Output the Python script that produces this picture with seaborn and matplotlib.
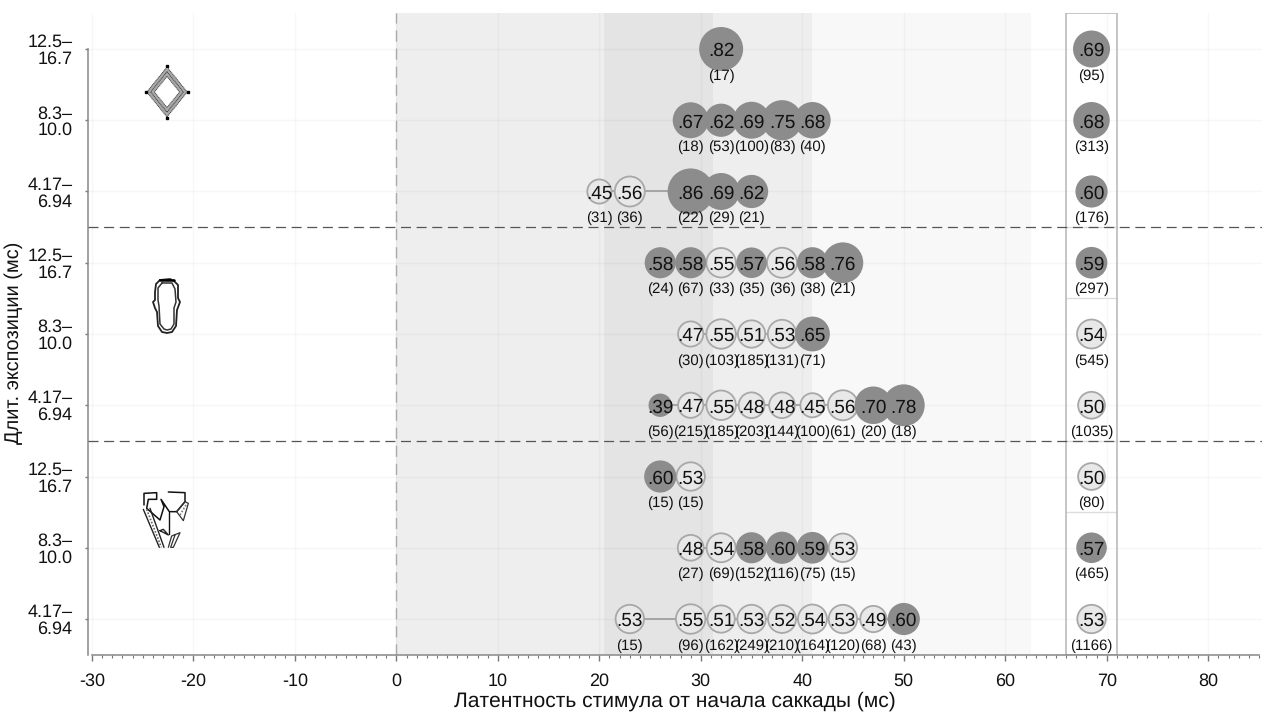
import numpy as np
import pandas as pd
import seaborn as sns
import matplotlib.pyplot as plt

# one set of lists per row, bottom row of the chart first
row_labels = ['4.17–\n6.94', '8.3–\n10.0', '12.5–\n16.7'] * 3
lat_0 = [23, 29, 32, 35, 38, 41, 44, 47, 50]
val_0 = [.53, .55, .51, .53, .52, .54, .53, .49, .60]
cnt_0 = [15, 96, 162, 249, 210, 164, 120, 68, 43]
lat_1 = [29, 32, 35, 38, 41, 44]
val_1 = [.48, .54, .58, .60, .59, .53]
cnt_1 = [27, 69, 152, 116, 75, 15]
lat_2 = [26, 29]
val_2 = [.60, .53]
cnt_2 = [15, 15]
lat_3 = [26, 29, 32, 35, 38, 41, 44, 47, 50]
val_3 = [.39, .47, .55, .48, .48, .45, .56, .70, .78]
cnt_3 = [56, 215, 185, 203, 144, 100, 61, 20, 18]
lat_4 = [29, 32, 35, 38, 41]
val_4 = [.47, .55, .51, .53, .65]
cnt_4 = [30, 103, 185, 131, 71]
lat_5 = [26, 29, 32, 35, 38, 41, 44]
val_5 = [.58, .58, .55, .57, .56, .58, .76]
cnt_5 = [24, 67, 33, 35, 36, 38, 21]
lat_6 = [20, 23, 29, 32, 35]
val_6 = [.45, .56, .86, .69, .62]
cnt_6 = [31, 36, 22, 29, 21]
lat_7 = [29, 32, 35, 38, 41]
val_7 = [.67, .62, .69, .75, .68]
cnt_7 = [18, 53, 100, 83, 40]
lat_8 = [32]
val_8 = [.82]
cnt_8 = [17]

# the pooled column inside the box on the right
total_lat = 68.5
total_val = [.53, .57, .50, .50, .54, .59, .60, .68, .69]
total_cnt = [1166, 465, 80, 1035, 545, 297, 176, 313, 95]

lats = [lat_0, lat_1, lat_2, lat_3, lat_4, lat_5, lat_6, lat_7, lat_8]
vals = [val_0, val_1, val_2, val_3, val_4, val_5, val_6, val_7, val_8]
cnts = [cnt_0, cnt_1, cnt_2, cnt_3, cnt_4, cnt_5, cnt_6, cnt_7, cnt_8]

frames = []
for i in range(9):
    frames.append(pd.DataFrame({'lat': lats[i], 'val': vals[i], 'cnt': cnts[i], 'row': i, 'total': False}))
    frames.append(pd.DataFrame({'lat': [total_lat], 'val': [total_val[i]], 'cnt': [total_cnt[i]], 'row': i, 'total': True}))
df = pd.concat(frames, ignore_index=True)
df['sig'] = (df['val'] >= .565) | (df['val'] <= .40)
df['s'] = (38.6 * df['val']) ** 2   # diameter goes with the value
df.loc[df['val'] <= .40, 's'] *= 1.25

sns.set_theme(style='white')
plt.rcParams['font.family'] = ['Liberation Sans', 'DejaVu Sans']
plt.rcParams['axes.unicode_minus'] = False
plt.rcParams['text.hinting'] = 'no_hinting'
plt.rcParams['text.hinting_factor'] = 1

fig = plt.figure(figsize=(12.8, 7.16), dpi=100)
ax = fig.add_axes([88 / 1280, 61 / 716, 1174 / 1280, 642 / 716])
ax.set_xlim(-30.39, 85.3)
ax.set_ylim(-0.505, 8.505)

# shaded latency bands
ax.axvspan(0, 20.5, color='#eeeeee', lw=0, zorder=0)
ax.axvspan(20.5, 31.2, color='#e4e4e4', lw=0, zorder=0)
ax.axvspan(31.2, 41, color='#eeeeee', lw=0, zorder=0)
ax.axvspan(41, 62.5, color='#f8f8f8', lw=0, zorder=0)

ax.set_xticks(np.arange(-30, 81, 10))
ax.set_xticks(np.arange(-30, 86, 1), minor=True)
ax.set_yticks(range(9))
ax.set_yticklabels(row_labels, linespacing=1.0, ha='right', multialignment='right')
ax.grid(True, which='major', color='black', alpha=0.03, lw=1)
ax.set_axisbelow(True)
for g in ax.get_xgridlines() + ax.get_ygridlines():
    g.set_zorder(0.5)

ax.tick_params(axis='x', which='major', length=4.5, width=1, color='#777777', labelsize=13, pad=8.5, labelcolor='#111111', bottom=True)
ax.tick_params(axis='x', which='minor', length=2.2, width=0.8, color='#777777', bottom=True)
ax.tick_params(axis='y', which='major', length=2.2, width=1, color='#777777', labelsize=13, pad=9, labelcolor='#111111', left=True)

sns.despine(ax=ax)
ax.spines['left'].set_bounds(-0.5, 8)
ax.spines['bottom'].set_bounds(-30, 85)
for side in ['left', 'bottom']:
    ax.spines[side].set_color('#888888')
    ax.spines[side].set_linewidth(1.1)

# zero line, group separators, box round the pooled column
ax.axvline(0, color='#aaaaaa', lw=1, dashes=(8, 5), zorder=1)
for y in [2.5, 5.5]:
    ax.axhline(y, color='#555555', lw=0.9, dashes=(8, 4.5), zorder=3)
for y in [1.5, 2.5, 4.5, 5.5]:
    ax.plot([66, 71], [y, y], color='#dddddd', lw=1, zorder=1.5)
ax.add_patch(plt.Rectangle((66, -0.505), 5, 9.01, fill=False, ec='#b5b5b5', lw=1.1, zorder=2))

sns.lineplot(data=df[~df['total']], x='lat', y='row', units='row', estimator=None,
             color='#9a9a9a', lw=1.2, ax=ax, zorder=3, legend=False)

light = df[~df['sig']]
dark = df[df['sig']]
sns.scatterplot(data=light, x='lat', y='row', s=light['s'].values, facecolor='#e8e8e8',
                edgecolor='#a8a8a8', linewidth=1.3, ax=ax, zorder=4, legend=False)
sns.scatterplot(data=dark, x='lat', y='row', s=dark['s'].values, color='#8c8c8c',
                edgecolor='none', linewidth=0, ax=ax, zorder=5, legend=False)

# the counts touch in the crowded rows, as they do in the original
for _, r in df.iterrows():
    ax.annotate(('%.2f' % r['val'])[1:], (r['lat'], r['row']), xytext=(0, -5.2), textcoords='offset points',
                ha='center', va='baseline', fontsize=14, color='#111111', zorder=6)
    ax.annotate('(%d)' % r['cnt'], (r['lat'], r['row']), xytext=(0, -19.2), textcoords='offset points',
                ha='center', va='center', fontsize=10.5, color='#111111', zorder=6)

ax.set_xlabel('Латентность стимула от начала саккады (мс)', fontsize=15.3, color='#111111', va='center')
ax.xaxis.set_label_coords((675 - 88) / 1174, -(701 - 655) / 642)
ax.set_ylabel('Длит. экспозиции (мс)', fontsize=14.6, color='#111111', va='center')
ax.yaxis.set_label_coords((14 - 88) / 1174, (655 - 343) / 642)

# stimulus icons, drawn on an overlay in pixel coordinates
ic = fig.add_axes([0, 0, 1, 1], facecolor='none')
ic.set_xlim(0, 1280)
ic.set_ylim(716, 0)
ic.axis('off')

ic.plot([167, 167 + 16.4, 167, 167 - 16.4, 167], [92 - 20.3, 92, 92 + 20.3, 92, 92 - 20.3],
        color='#aaaaaa', lw=4.2, solid_joinstyle='miter')
for k in [0.96, 0.78, 0.6]:
    ic.plot([167, 167 + 21 * k, 167, 167 - 21 * k, 167],
            [92 - 26 * k, 92, 92 + 26 * k, 92, 92 - 26 * k], color='#444444', lw=0.7, dashes=(1.2, 0.6))
ic.plot([167, 188, 167, 146], [66, 92, 118, 92], ls='none', marker='s', ms=2, color='black')

ic.plot([160, 156, 155, 155, 153, 155, 157, 158, 162, 167, 172, 176, 177, 180, 178, 178, 174, 170, 160],
        [280, 284, 292, 300, 302, 308, 312, 326, 332, 333, 332, 326, 310, 302, 298, 285, 281, 279, 280],
        color='#222222', lw=1.3)
ic.plot([162, 158, 158, 159, 160, 164, 167, 171, 174, 174, 176, 175, 172, 162],
        [283, 288, 300, 306, 324, 329, 330, 329, 324, 308, 302, 289, 283, 283],
        color='#333333', lw=1.1)
ic.plot([160, 174], [280, 280], color='black', lw=1.8)

sx = lambda v: np.array(v) / 3
sy = lambda v: 440 + np.array(v) / 3
ic.plot(sx([432, 432, 470, 470, 445, 440, 480, 492, 483, 508, 530, 555, 555, 505]),
        sy([195, 160, 158, 178, 178, 205, 240, 200, 178, 215, 215, 185, 158, 156]), color='#111111', lw=1.1)
ic.plot(sx([508, 508]), sy([215, 282]), color='#111111', lw=1)
ic.plot(sx([430, 478]), sy([208, 322]), color='#222222', lw=1)
ic.plot(sx([450, 492]), sy([205, 322]), color='#222222', lw=1)
ic.plot(sx([440, 484]), sy([208, 322]), color='#666666', lw=1.2, dashes=(1, 1))
ic.plot(sx([480, 505, 490, 480]), sy([272, 285, 268, 272]), color='#222222', lw=1)
ic.plot(sx([505, 515, 540, 520, 512, 525]), sy([322, 288, 278, 322, 322, 285]), color='#333333', lw=0.9)
ic.plot(sx([530, 550, 565, 555, 530]), sy([215, 242, 190, 185, 215]), color='#333333', lw=0.9)
ic.plot(sx([540, 558]), sy([225, 195]), color='#777777', lw=1.2, dashes=(1, 1))

plt.savefig('out.png', dpi=100)
plt.close()
